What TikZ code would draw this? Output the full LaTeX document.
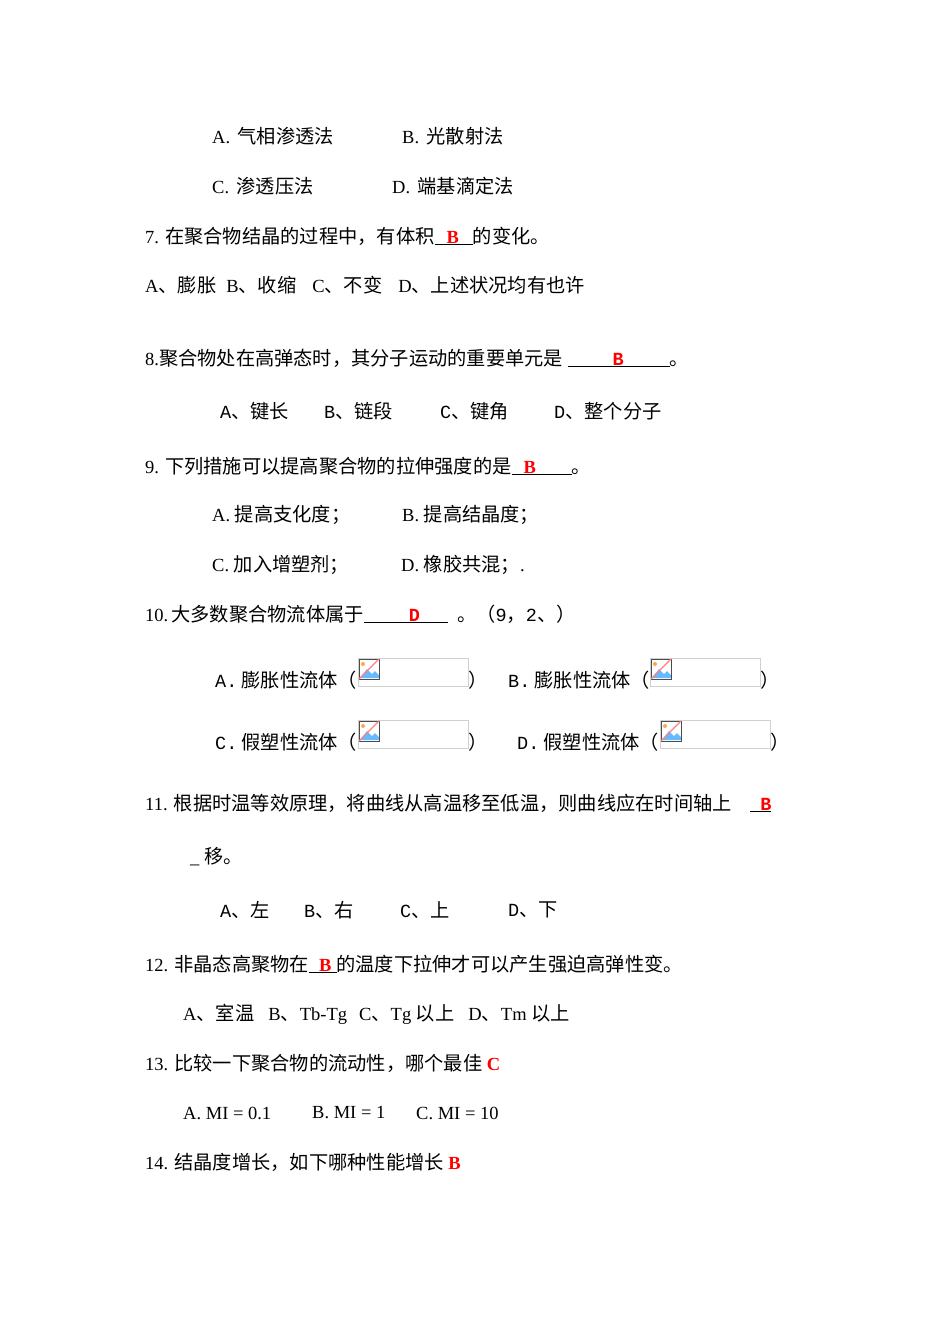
\documentclass[tikz,border=0pt]{standalone}
\usepackage{fontspec}
\setmainfont{Liberation Serif}
\setmonofont{Liberation Mono}
\newfontfamily\cjk{Noto Sans CJK SC}[Scale=1.04]
\newcommand{\zh}[1]{{\cjk #1}}
\newcommand{\ans}[3]{\underline{\hspace{#1}\textcolor{red}{\textbf{#2}}\hspace{#3}}}
\begin{document}
\begin{tikzpicture}[x=1pt,y=-1pt,
  t/.style={anchor=west,inner sep=0pt,font=\fontsize{18.5}{20}\selectfont},
  imgbox/.style={draw=black!18,line width=0.8pt}]
\useasboundingbox (0,0) rectangle (950,1344);
\fill[white] (0,0) rectangle (950,1344);
\node[t] (l1a) at (212,136) {A.\,\zh{ 气相渗透法}};
\node[t] (l1b) at (402,136) {B.\,\zh{ 光散射法}};
\node[t] (l2a) at (212,186) {C.\,\zh{ 渗透压法}};
\node[t] (l2b) at (392,186) {D.\,\zh{ 端基滴定法}};
\node[t] (l3) at (145,236) {7. \zh{在聚合物结晶的过程中，有体积}\ans{12pt}{B}{14pt}\zh{的变化。}};
\node[t] (l4) at (145,285) {A\zh{、膨胀}\hspace{10pt}B\zh{、收缩}\hspace{16pt}C\zh{、不变}\hspace{16pt}D\zh{、上述状况均有也许}};
\node[t] (l5) at (145,358) {8.\zh{聚合物处在高弹态时，其分子运动的重要单元是} \ans{45pt}{\texttt{B}}{46pt}\zh{。}};
\node[t] (l6a) at (220,411) {\texttt{A}\zh{、键长}};
\node[t] (l6b) at (324,411) {\texttt{B}\zh{、链段}};
\node[t] (l6c) at (440,411) {\texttt{C}\zh{、键角}};
\node[t] (l6d) at (554,411) {\texttt{D}\zh{、整个分子}};
\node[t] (l7) at (145,466) {9. \zh{下列措施可以提高聚合物的拉伸强度的是}\ans{12pt}{B}{36pt}\zh{。}};
\node[t] (l8a) at (212,515) {A. \zh{提高支化度；}};
\node[t] (l8b) at (402,515) {B. \zh{提高结晶度；}};
\node[t] (l9a) at (212,565) {C. \zh{加入增塑剂；}};
\node[t] (l9b) at (401,565) {D. \zh{橡胶共混；}.};
\node[t] (l10) at (145,614) {10.\,\zh{大多数聚合物流体属于}\ans{45pt}{\texttt{D}}{28pt}\ \ \zh{。（}\texttt{9}\zh{，}\texttt{2}\zh{、）}};
% image placeholders
\foreach \n/\x/\y/\w in {ia/358/658/110, ib/650/658/110, ic/358/720/110, id/660/720/110}{
  \draw[imgbox] (\x,\y) rectangle ++(\w,28);
  \fill[blue!45!cyan!60] (\x+2,\y+20) -- (\x+9,\y+11) -- (\x+14,\y+16) -- (\x+17,\y+13) -- (\x+21,\y+17) -- (\x+21,\y+20) -- cycle;
  \draw[black!70,line width=0.8pt] (\x+1,\y+1) rectangle (\x+21,\y+21);
  \fill[orange!70] (\x+5,\y+6) circle (2);
  \draw[red!50,line width=1.2pt] (\x+1,\y+21) -- (\x+21,\y+1);
}
\node[t] (l11a) at (215,680) {\texttt{A.}\zh{ 膨胀性流体（}};
\node[t] (pa) at (468,680) {\zh{）}};
\node[t] (l11b) at (508,680) {\texttt{B.}\zh{ 膨胀性流体（}};
\node[t] (pb) at (760,680) {\zh{）}};
\node[t] (l12a) at (215,742) {\texttt{C.}\zh{ 假塑性流体（}};
\node[t] (pc) at (468,742) {\zh{）}};
\node[t] (l12b) at (517,742) {\texttt{D.}\zh{ 假塑性流体（}};
\node[t] (pd) at (770,742) {\zh{）}};
\node[t] (l13) at (145,803) {11. \zh{根据时温等效原理，将曲线从高温移至低温，则曲线应在时间轴上}\quad\ans{10pt}{\texttt{B}}{0pt}};
\node[t] (l14) at (190,857) {\_ \zh{移。}};
\node[t] (l15a) at (220,910) {\texttt{A}\zh{、左}};
\node[t] (l15b) at (304,910) {\texttt{B}\zh{、右}};
\node[t] (l15c) at (400,910) {\texttt{C}\zh{、上}};
\node[t] (l15d) at (508,910) {\texttt{D}\zh{、下}};
\node[t] (l16) at (145,964) {12. \zh{非晶态高聚物在}\ans{10pt}{B}{5pt}\zh{的温度下拉伸才可以产生强迫高弹性变。}};
\node[t] (l17) at (183,1014) {A\zh{、室温}\hspace{14pt}B\zh{、}Tb-Tg\hspace{12pt}C\zh{、}Tg \zh{以上}\hspace{14pt}D\zh{、}Tm \zh{以上}};
\node[t] (l18) at (145,1063) {13. \zh{比较一下聚合物的流动性，哪个最佳} \textcolor{red}{\textbf{C}}};
\node[t] (l19a) at (183,1113) {A. MI = 0.1};
\node[t] (l19b) at (312,1113) {B. MI = 1};
\node[t] (l19c) at (416,1113) {C. MI = 10};
\node[t] (l20) at (145,1162) {14. \zh{结晶度增长，如下哪种性能增长} \textcolor{red}{\textbf{B}}};
\end{tikzpicture}
\end{document}
